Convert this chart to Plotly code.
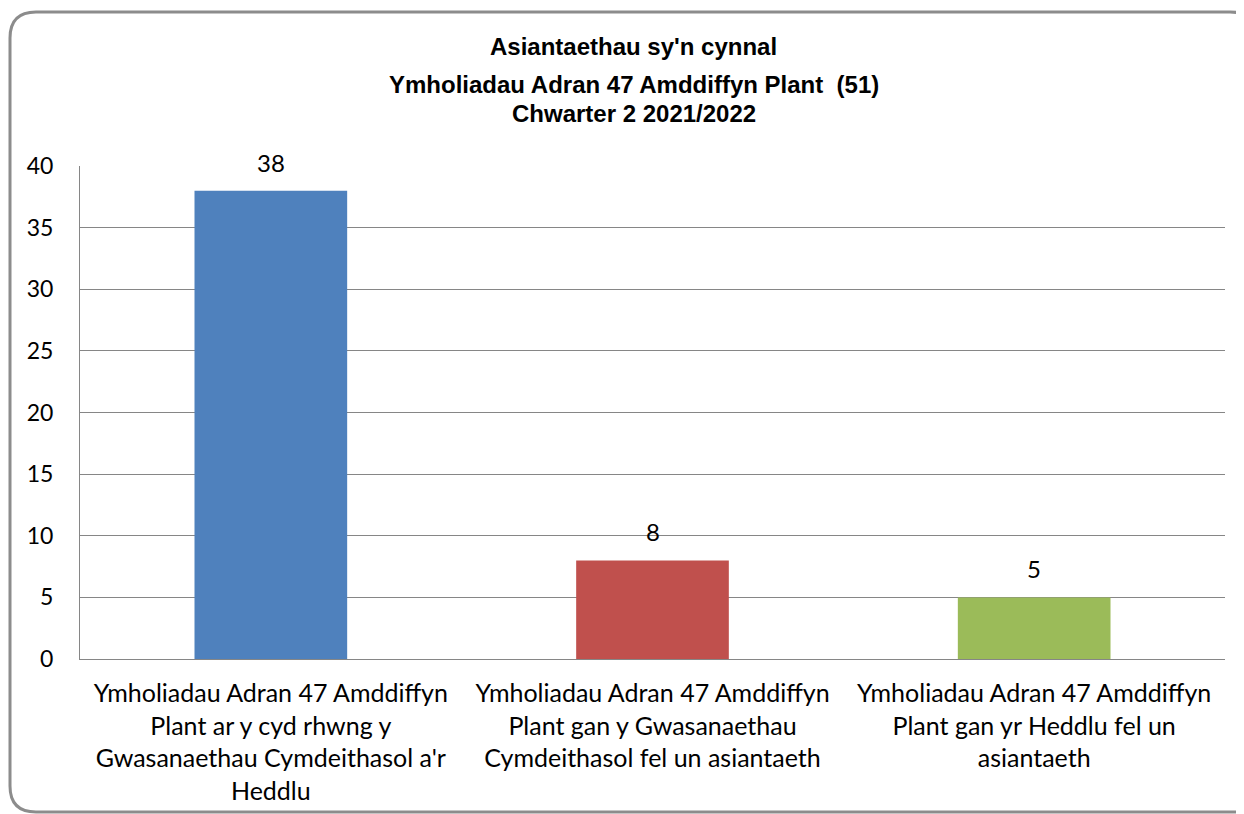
import plotly.graph_objects as go

categories = [
    "Ymholiadau Adran 47 Amddiffyn<br>Plant ar y cyd rhwng y<br>Gwasanaethau Cymdeithasol a'r<br>Heddlu",
    "Ymholiadau Adran 47 Amddiffyn<br>Plant gan y Gwasanaethau<br>Cymdeithasol fel un asiantaeth",
    "Ymholiadau Adran 47 Amddiffyn<br>Plant gan yr Heddlu fel un<br>asiantaeth",
]
values = [38, 8, 5]
colors = ["#4F81BD", "#C0504D", "#9BBB59"]
title_lines = ["Asiantaethau sy'n cynnal", "Ymholiadau Adran 47 Amddiffyn Plant  (51)", "Chwarter 2 2021/2022"]
y_ticks = [0, 5, 10, 15, 20, 25, 30, 35, 40]

OFF = 8  # page body margin
W, H = 1244 - OFF, 814 - OFF
# plot area in page pixels: left 80, top 166, right 1225, bottom 659
L, T = 80 - OFF, 166 - OFF
R = W - (1225 - OFF)
B = H - (659 - OFF)
pw, ph = W - L - R, H - T - B


def px(x):
    return (x - OFF - L) / pw


def py(y):
    return (H - B - (y - OFF)) / ph


fig = go.Figure()
fig.add_trace(go.Bar(
    x=[0, 1, 2], y=values, marker=dict(color=colors, line=dict(width=0)),
    width=0.4, hoverinfo="y",
))

for i, v in enumerate(values):
    fig.add_annotation(
        x=i, y=v, xref="x", yref="y", text=str(v), showarrow=False,
        yanchor="bottom", xanchor="center", yshift=12,
        font=dict(family="Lato", size=24, color="#000000"),
    )

# rounded frame (page pixel coords); right side lies beyond the window
x0, y0, x1, y1, r = 10, 12, 1256, 812, 26
path = (f"M {px(x1)},{py(y0+r)} Q {px(x1)},{py(y0)} {px(x1-r)},{py(y0)} "
        f"L {px(x0+r)},{py(y0)} Q {px(x0)},{py(y0)} {px(x0)},{py(y0+r)} "
        f"L {px(x0)},{py(y1-r)} Q {px(x0)},{py(y1)} {px(x0+r)},{py(y1)} "
        f"L {px(x1)},{py(y1)}")

fig.update_layout(
    width=W, height=H,
    margin=dict(l=L, r=R, t=T, b=B, autoexpand=False),
    paper_bgcolor="white", plot_bgcolor="white",
    showlegend=False,
    shapes=[dict(type="path", path=path, xref="paper", yref="paper",
                 line=dict(color="#8C8C8C", width=3), layer="below")],
    xaxis=dict(
        range=[-0.5, 2.5], tickvals=[0, 1, 2], ticktext=categories,
        showgrid=False, showline=True, linecolor="#868686", linewidth=1,
        ticks="", tickfont=dict(family="Lato", size=25, color="#000000"),
        zeroline=False, ticklabelstandoff=12, fixedrange=True, automargin=False,
    ),
    yaxis=dict(
        range=[0, 40], tickvals=y_ticks, showgrid=True, gridcolor="#868686",
        gridwidth=1, showline=True, linecolor="#868686", linewidth=1,
        ticks="", tickfont=dict(family="Lato", size=23, color="#000000"),
        zeroline=False, ticklabelstandoff=21, fixedrange=True, automargin=False,
    ),
)

title_y = [49, 86, 116]
for line, ty in zip(title_lines, title_y):
    fig.add_annotation(
        text=f"<b>{line}</b>", xref="paper", yref="paper",
        x=px(633.5), y=py(ty - 2), xanchor="center", yanchor="middle",
        showarrow=False, font=dict(family="Liberation Sans", size=24, color="#000000"),
    )

fig.write_html("out.html")
